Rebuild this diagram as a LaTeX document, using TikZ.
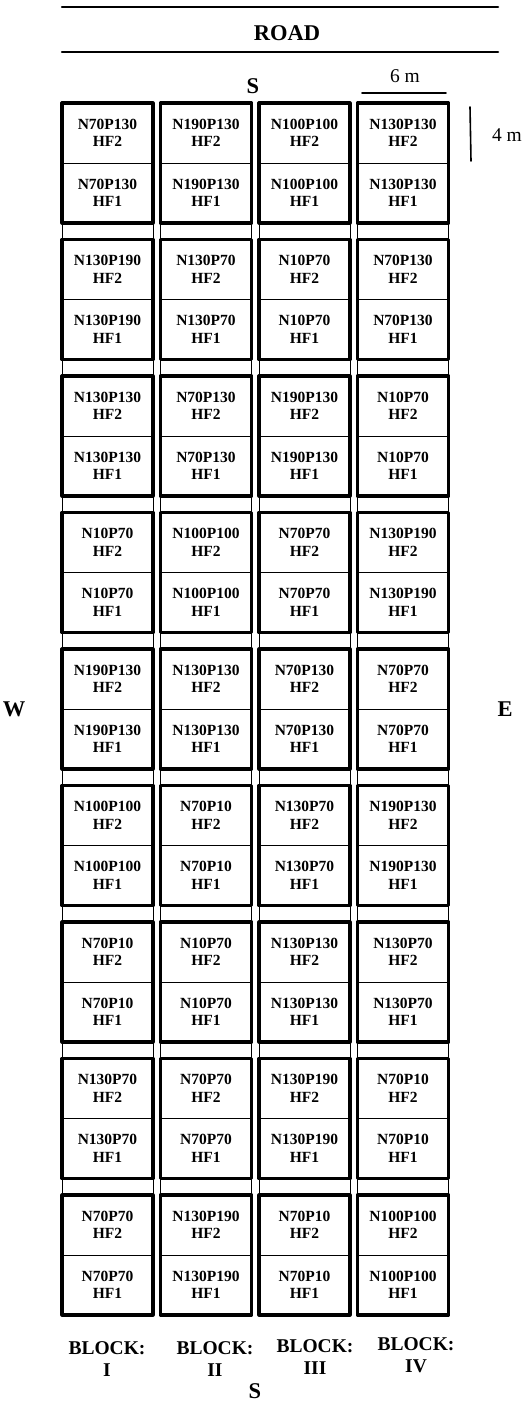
\documentclass[tikz,border=0pt]{standalone}
\usepackage{fontspec}
\setmainfont{Liberation Serif}
\begin{document}
\begin{tikzpicture}[x=1pt,y=-1pt,line join=round,line cap=round,
  cell/.style={draw,line width=.9pt,minimum width=91pt,minimum height=60pt,inner sep=0pt,outer sep=0pt,
    align=center,font=\fontsize{15.5}{17.5}\selectfont\bfseries},
  plotbox/.style={draw,line width=3.2pt},
  lbl/.style={font=\fontsize{22.5}{25}\selectfont\bfseries},
  blk/.style={align=center,font=\fontsize{19.5}{21.5}\selectfont\bfseries}]
\useasboundingbox (0,0) rectangle (531,1402);
% road
\draw[line width=2.5pt] (62,7)--(498,7) (62,52)--(498,52);
\node[lbl] (road) at (287,33) {ROAD};
\node[lbl] (sN) at (253,86) {S};
% scale
\node[font=\fontsize{19.5}{22}\selectfont] (sixm) at (405,76) {6 m};
\draw[line width=1.6pt] (362,93)--(446,93);
\draw[line width=1.6pt] (470,107)--(471,161);
\node[font=\fontsize{19.5}{22}\selectfont] (fourm) at (507,135) {4 m};
\node[lbl] (west) at (14,709) {W};
\node[lbl] (east) at (505,709) {E};
% blocks
\foreach \c/\lst in {1/{N70P130,N130P190,N130P130,N10P70,N190P130,N100P100,N70P10,N130P70,N70P70},
    2/{N190P130,N130P70,N70P130,N100P100,N130P130,N70P10,N10P70,N70P70,N130P190},
    3/{N100P100,N10P70,N190P130,N70P70,N70P130,N130P70,N130P130,N130P190,N70P10},
    4/{N130P130,N70P130,N10P70,N130P190,N70P70,N190P130,N130P70,N70P10,N100P100}}{
  \pgfmathsetmacro\xl{62+98.5*(\c-1)}
  \draw[line width=.9pt] (\xl,103) rectangle (\xl+91,1315);
  \foreach \t [count=\r] in \lst {
    \pgfmathsetmacro\yt{103+136.5*(\r-1)}
    \node[cell,anchor=north west] (p\c-\r-2) at (\xl,\yt) {\t\\HF2};
    \node[cell,anchor=north] (p\c-\r-1) at (p\c-\r-2.south) {\t\\HF1};
    \draw[plotbox] (p\c-\r-2.north west) rectangle (p\c-\r-1.south east);
  }
}
\node[blk] (b1) at (107,1359) {BLOCK:\\I};
\node[blk] (b2) at (215,1359) {BLOCK:\\II};
\node[blk] (b3) at (315,1357) {BLOCK:\\III};
\node[blk] (b4) at (416,1355) {BLOCK:\\IV};
\node[lbl] (sS) at (255,1391) {S};
\end{tikzpicture}
\end{document}
